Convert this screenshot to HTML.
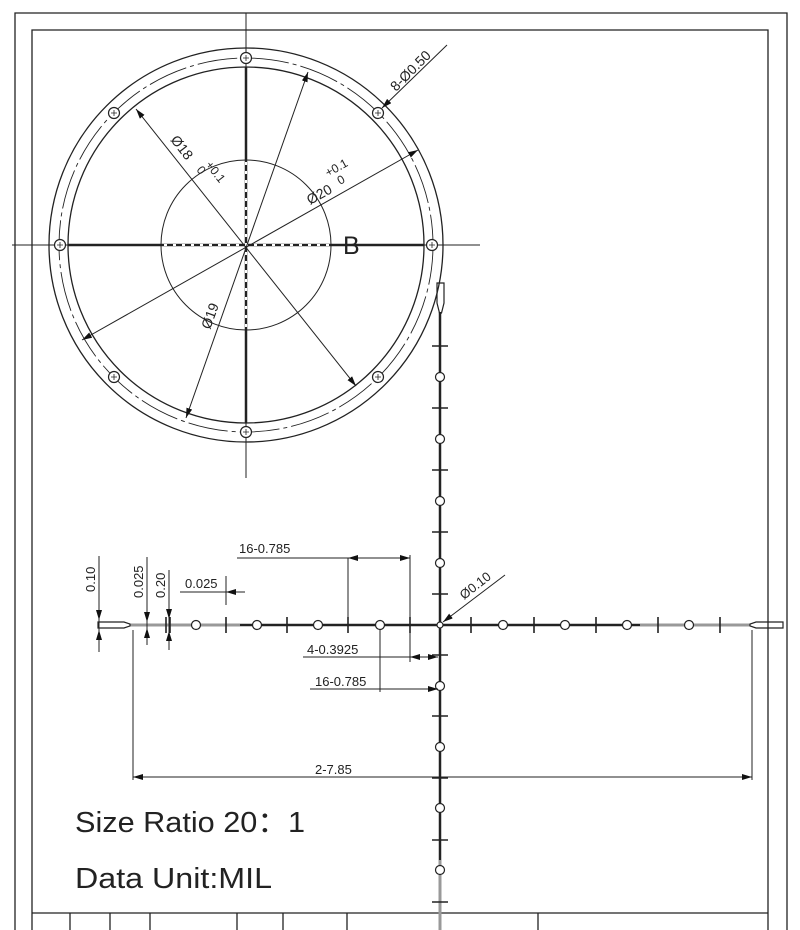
<!DOCTYPE html>
<html><head><meta charset="utf-8"><style>
html,body{margin:0;padding:0;background:#fff;width:800px;height:930px;overflow:hidden}
svg{display:block}
text{font-family:"Liberation Sans","DejaVu Sans",sans-serif;fill:#222}
</style></head><body>
<svg width="800" height="930" viewBox="0 0 800 930" xmlns="http://www.w3.org/2000/svg">
<defs>
<marker id="a" viewBox="0 0 10 6" refX="10" refY="3" markerWidth="10" markerHeight="6" orient="auto-start-reverse" markerUnits="userSpaceOnUse"><path d="M0,0L10,3L0,6z" fill="#111"/></marker>
</defs>
<g fill="none" stroke="#222" stroke-width="1.3">
<path d="M15,930V13H787V930"/>
<path d="M32,930V30H768V930"/>
<path d="M32,913H768M70,913V930M110,913V930M150,913V930M237,913V930M283,913V930M347,913V930M538,913V930"/>
<path d="M246,13V478M12,245H480" stroke-width="1"/>
<circle cx="246" cy="245" r="197"/>
<circle cx="246" cy="245" r="178"/>
<circle cx="246" cy="245" r="187" stroke-dasharray="40 4 4 4" stroke-width="0.9"/>
<circle cx="246" cy="245" r="85" stroke-width="1"/>
<path d="M68,245H424M246,67V423" stroke-width="2.5"/>
<path d="M164,245H330M246,162V330" stroke="#fff" stroke-width="2" stroke-dasharray="3 6"/>
</g>
<g fill="#fff" stroke="#222" stroke-width="1.2">
<circle cx="246" cy="58" r="5.5"/><circle cx="432" cy="245" r="5.5"/><circle cx="378" cy="113" r="5.5"/><circle cx="114" cy="113" r="5.5"/>
<circle cx="60" cy="245" r="5.5"/><circle cx="114" cy="377" r="5.5"/><circle cx="378" cy="377" r="5.5"/><circle cx="246" cy="432" r="5.5"/>
</g>
<g stroke="#222" stroke-width="0.8">
<path d="M243,58h6M246,55v6M429,245h6M432,242v6M375,113h6M378,110v6M111,113h6M114,110v6M57,245h6M60,242v6M111,377h6M114,374v6M375,377h6M378,374v6M243,432h6M246,429v6"/>
</g>
<g stroke="#222" stroke-width="1" fill="none">
<path d="M136,109L356,386" marker-start="url(#a)" marker-end="url(#a)"/>
<path d="M82,340L418,150" marker-start="url(#a)" marker-end="url(#a)"/>
<path d="M186,418L308,72" marker-start="url(#a)" marker-end="url(#a)"/>
<path d="M447,45L382,108" marker-end="url(#a)"/>
</g>
<text x="0" y="0" font-size="14" transform="translate(170,140) rotate(52)">Ø18</text>
<text x="0" y="0" font-size="12" transform="translate(205,165) rotate(52)">+0.1</text>
<text x="0" y="0" font-size="12" transform="translate(196,170) rotate(52)">0</text>
<text x="0" y="0" font-size="14" transform="translate(310,205) rotate(-29)">Ø20</text>
<text x="0" y="0" font-size="12" transform="translate(328,177) rotate(-29)">+0.1</text>
<text x="0" y="0" font-size="12" transform="translate(340,185) rotate(-29)">0</text>
<text x="0" y="0" font-size="14" transform="translate(210,330) rotate(-70)">Ø19</text>
<text x="0" y="0" font-size="14" transform="translate(396,92) rotate(-45)">8-Ø0.50</text>
<text x="343" y="254" font-size="25">B</text>

<g stroke="#222" fill="none">
<path d="M440,312V930" stroke-width="2.5"/>
<path d="M440,860V930" stroke="#999" stroke-width="3"/>
<path d="M437,283h7v20l-2.5,10h-2l-2.5,-10z" stroke-width="1.2"/>
<path d="M130,625H750" stroke-width="2.5"/>
<path d="M130,625H240M640,625H750" stroke="#999" stroke-width="3"/>
<path d="M98,622H124l6,2v2l-6,2H98z" stroke-width="1.2"/>
<path d="M783,622H756l-6,2v2l6,2H783z" stroke-width="1.2"/>
</g>
<g stroke="#222" stroke-width="1.6">
<path d="M471,617v16M534,617v16M596,617v16M658,617v16M720,617v16M410,617v16M348,617v16M287,617v16M226,617v16M166,617v16M170,617v16"/>
<path d="M432,594h16M432,532h16M432,470h16M432,408h16M432,346h16M432,655h16M432,716h16M432,778h16M432,840h16M432,902h16"/>
</g>
<g fill="#fff" stroke="#222" stroke-width="1.2">
<circle cx="503" cy="625" r="4.5"/><circle cx="565" cy="625" r="4.5"/><circle cx="627" cy="625" r="4.5"/><circle cx="689" cy="625" r="4.5"/>
<circle cx="380" cy="625" r="4.5"/><circle cx="318" cy="625" r="4.5"/><circle cx="257" cy="625" r="4.5"/><circle cx="196" cy="625" r="4.5"/>
<circle cx="440" cy="563" r="4.5"/><circle cx="440" cy="501" r="4.5"/><circle cx="440" cy="439" r="4.5"/><circle cx="440" cy="377" r="4.5"/>
<circle cx="440" cy="686" r="4.5"/><circle cx="440" cy="747" r="4.5"/><circle cx="440" cy="808" r="4.5"/><circle cx="440" cy="870" r="4.5"/>
<circle cx="440" cy="625" r="3"/>
</g>
<g stroke="#222" stroke-width="1" fill="none">
<path d="M133,630V780M752,630V780"/>
<path d="M133,777H752" marker-start="url(#a)" marker-end="url(#a)"/>
<path d="M348,558V620M410,555V620M237,558H348"/>
<path d="M348,558H410" marker-start="url(#a)" marker-end="url(#a)"/>
<path d="M410,630V662M303,657H410"/>
<path d="M410,657H425" marker-start="url(#a)"/><path d="M425,657H438" marker-end="url(#a)"/>
<path d="M380,630V692M310,689H380"/>
<path d="M380,689H438" marker-end="url(#a)"/>
<path d="M99,556V645"/><path d="M99,598V620" marker-end="url(#a)"/><path d="M99,652V630" marker-end="url(#a)"/>
<path d="M147,557V645"/><path d="M147,603V622" marker-end="url(#a)"/><path d="M147,645V628" marker-end="url(#a)"/>
<path d="M169,570V650"/><path d="M169,600V619" marker-end="url(#a)"/><path d="M169,650V631" marker-end="url(#a)"/>
<path d="M226,576V605M180,592H226"/><path d="M226,592H245" marker-start="url(#a)"/>
<path d="M505,575L443,622" marker-end="url(#a)"/>
</g>
<text x="239" y="553" font-size="13">16-0.785</text>
<text x="307" y="654" font-size="13">4-0.3925</text>
<text x="315" y="686" font-size="13">16-0.785</text>
<text x="315" y="774" font-size="13">2-7.85</text>
<text x="185" y="588" font-size="13">0.025</text>
<text font-size="13" transform="translate(95,592) rotate(-90)">0.10</text>
<text font-size="13" transform="translate(143,598) rotate(-90)">0.025</text>
<text font-size="13" transform="translate(165,598) rotate(-90)">0.20</text>
<text font-size="13" transform="translate(464,600) rotate(-38)">Ø0.10</text>
<text x="75" y="832" font-size="29" textLength="230" lengthAdjust="spacingAndGlyphs" style="font-family:'Liberation Sans','Noto Sans CJK SC',sans-serif">Size Ratio 20：1</text>
<text x="75" y="888" font-size="29" textLength="197" lengthAdjust="spacingAndGlyphs">Data Unit:MIL</text>
</svg>
</body></html>
